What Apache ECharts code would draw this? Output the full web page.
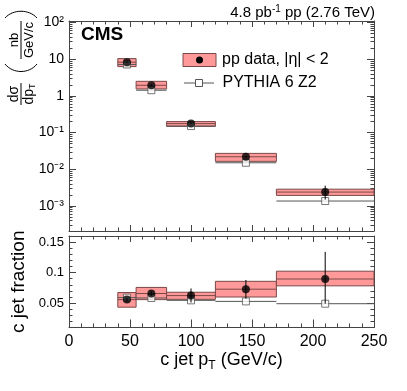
<!DOCTYPE html>
<html>
<head>
<meta charset="utf-8">
<script src="https://cdn.jsdelivr.net/npm/echarts@6/dist/echarts.min.js"></script>
<style>
  html, body { margin: 0; padding: 0; background: #fff; }
  #chart { width: 407px; height: 391px; }
</style>
</head>
<body>
<div id="chart"></div>
<script>
// c jet pT bins (GeV/c)
const binLow = [40, 55, 80, 120, 170];
const binHigh = [55, 80, 120, 170, 250];
const binCenter = [47.5, 67.5, 100, 145, 210];

// top panel: dsigma/dpT (nb/GeV/c)
const xsecData = [8.3, 1.95, 0.176, 0.022, 0.0024];
const xsecStatLow = [7.9, 1.85, 0.170, 0.0205, 0.0015];
const xsecStatHigh = [8.7, 2.05, 0.183, 0.0235, 0.0036];
const xsecSysLow = [6.3, 1.55, 0.148, 0.0165, 0.00195];
const xsecSysHigh = [10.4, 2.5, 0.200, 0.0272, 0.00288];
const xsecPythia = [7.2, 1.43, 0.151, 0.0151, 0.00137];

// bottom panel: c jet fraction
const fracData = [0.0557, 0.0657, 0.0623, 0.0728, 0.0895];
const fracStatLow = [0.053, 0.062, 0.051, 0.0573, 0.049];
const fracStatHigh = [0.058, 0.070, 0.074, 0.0878, 0.134];
const fracSysLow = [0.0433, 0.0557, 0.0562, 0.0600, 0.0783];
const fracSysHigh = [0.0673, 0.0757, 0.0678, 0.0857, 0.1023];
const fracPythia = [0.059, 0.0584, 0.0545, 0.0528, 0.049];

// tick values and labels
const logMajor = [0.001, 0.01, 0.1, 1, 10, 100];
const logLabels = ['10\u207b\u00b3', '10\u207b\u00b2', '10\u207b\u00b9', '1', '10', '10\u00b2'];
const logMinor = [];
logMajor.concat([0.0001]).forEach(function (d) {
  for (let k = 2; k <= 9; k++) logMinor.push(+(d * k).toPrecision(3));
});
const fracMajor = [0.05, 0.1, 0.15];

const frame = '#444';
const boxFill = '#ff9999';
const boxEdge = '#7a4848';
const font = '"Liberation Sans", Arial, sans-serif';
const plotW = 305;

const chart = echarts.init(document.getElementById('chart'));

function xAxis(gi, pos, showLabel, majorLen, minorLen) {
  return {
    type: 'value', gridIndex: gi, position: pos, min: 0, max: 250, interval: 50,
    axisLine: { show: true, onZero: false, lineStyle: { color: frame } },
    axisTick: { show: true, inside: true, length: majorLen, lineStyle: { color: frame } },
    minorTick: { show: true, splitNumber: 5, length: minorLen, lineStyle: { color: frame } },
    axisLabel: { show: showLabel, color: '#000', fontSize: 16, fontFamily: font, margin: 6 },
    splitLine: { show: false }
  };
}

// y ticks: an axis placed on the opposite side and shifted across the plot,
// so its outward ticks point into the frame
function yLogLabels() {
  return {
    type: 'log', logBase: 10, gridIndex: 0, position: 'left', min: 2.09e-4, max: 110,
    axisLine: { show: true, onZero: false, lineStyle: { color: frame } },
    axisTick: { show: false },
    axisLabel: {
      customValues: logMajor, margin: 5, color: '#000', fontSize: 14, fontFamily: font,
      formatter: function (v) {
        const i = logMajor.findIndex(function (m) { return Math.abs(m - v) / m < 1e-6; });
        return i < 0 ? '' : logLabels[i];
      }
    },
    splitLine: { show: false }
  };
}
function yLogTicks(pos, values, len, showLine) {
  return {
    type: 'log', logBase: 10, gridIndex: 0, position: pos, offset: -plotW, min: 2.09e-4, max: 110,
    axisLine: { show: showLine, onZero: false, lineStyle: { color: frame } },
    axisTick: { show: true, inside: false, length: len, customValues: values, lineStyle: { color: frame } },
    axisLabel: { show: false },
    splitLine: { show: false }
  };
}

function yFracLabels() {
  return {
    type: 'value', gridIndex: 1, position: 'left', min: 0.01, max: 0.16, interval: 0.01,
    axisLine: { show: true, onZero: false, lineStyle: { color: frame } },
    axisTick: { show: false },
    axisLabel: {
      customValues: fracMajor, margin: 5, color: '#000', fontSize: 13, fontFamily: font,
      formatter: function (v) { return String(+v.toFixed(2)); }
    },
    splitLine: { show: false },
    name: 'c jet fraction', nameLocation: 'middle', nameGap: 25,
    nameTextStyle: { fontSize: 19, fontFamily: font, color: '#000' }
  };
}
function yFracTicks(pos, major, showLine) {
  const tick = { show: true, inside: false, length: major ? 7 : 3.5, lineStyle: { color: frame } };
  if (major) tick.customValues = fracMajor;
  return {
    type: 'value', gridIndex: 1, position: pos, offset: -plotW, min: 0.01, max: 0.16, interval: 0.01,
    axisLine: { show: showLine, onZero: false, lineStyle: { color: frame } },
    axisTick: tick,
    axisLabel: { show: false },
    splitLine: { show: false }
  };
}

// bins -> rows for custom series
function boxRows(lo, hi, mid) {
  return binLow.map(function (b, i) { return [b, binHigh[i], lo[i], hi[i], mid[i]]; });
}
function hRows(vals) {
  return binLow.map(function (b, i) { return [b, binHigh[i], vals[i]]; });
}
function errRows(lo, hi) {
  return binCenter.map(function (c, i) { return [c, lo[i], hi[i]]; });
}
function pts(vals) {
  return binCenter.map(function (c, i) { return [c, vals[i]]; });
}

function renderBox(params, api) {
  const a = api.coord([api.value(0), api.value(3)]);
  const b = api.coord([api.value(1), api.value(2)]);
  const m = api.coord([api.value(0), api.value(4)]);
  return {
    type: 'group',
    children: [
      { type: 'rect', shape: { x: a[0], y: a[1], width: b[0] - a[0], height: b[1] - a[1] },
        style: { fill: boxFill, stroke: boxEdge, lineWidth: 1 } },
      { type: 'line', shape: { x1: a[0], y1: m[1], x2: b[0], y2: m[1] },
        style: { stroke: boxEdge, lineWidth: 1 } }
    ]
  };
}
function renderH(params, api) {
  const a = api.coord([api.value(0), api.value(2)]);
  const b = api.coord([api.value(1), api.value(2)]);
  return { type: 'line', shape: { x1: a[0], y1: a[1], x2: b[0], y2: b[1] },
    style: { stroke: '#555', lineWidth: 1 } };
}
function renderErr(params, api) {
  const a = api.coord([api.value(0), api.value(1)]);
  const b = api.coord([api.value(0), api.value(2)]);
  return { type: 'line', shape: { x1: a[0], y1: a[1], x2: b[0], y2: b[1] },
    style: { stroke: '#000', lineWidth: 1 } };
}

function panelSeries(xi, yi, lo, hi, mid, sLo, sHi, pyth) {
  return [
    { type: 'custom', xAxisIndex: xi, yAxisIndex: yi, renderItem: renderBox, z: 2,
      encode: { x: [0, 1], y: [2, 3] }, data: boxRows(lo, hi, mid) },
    { type: 'custom', xAxisIndex: xi, yAxisIndex: yi, renderItem: renderH, z: 3,
      encode: { x: [0, 1], y: 2 }, data: hRows(pyth) },
    { type: 'scatter', xAxisIndex: xi, yAxisIndex: yi, symbol: 'rect', symbolSize: 7, z: 4,
      itemStyle: { color: '#fff', borderColor: '#555', borderWidth: 1 }, data: pts(pyth) },
    { type: 'custom', xAxisIndex: xi, yAxisIndex: yi, renderItem: renderErr, z: 5,
      encode: { x: 0, y: [1, 2] }, data: errRows(sLo, sHi) },
    { type: 'scatter', xAxisIndex: xi, yAxisIndex: yi, symbol: 'circle', symbolSize: 8, z: 6,
      itemStyle: { color: '#000' }, data: pts(mid) }
  ];
}

const option = {
  animation: false,
  backgroundColor: '#fff',
  grid: [
    { left: 69, top: 21, width: plotW, height: 210 },
    { left: 69, top: 236, width: plotW, height: 91.5 }
  ],
  xAxis: [
    xAxis(0, 'bottom', false, 6, 3.5),
    xAxis(0, 'top', false, 6, 3.5),
    Object.assign(xAxis(1, 'bottom', true, 8, 4), {
      name: '{a|c jet p}{t|T}{a| (GeV/c)}', nameLocation: 'middle', nameGap: 22,
      nameTextStyle: { rich: {
        a: { fontSize: 18, fontFamily: font, color: '#000' },
        t: { fontSize: 12, fontFamily: font, color: '#000', padding: [10, 0, 0, 0] }
      } }
    }),
    xAxis(1, 'top', false, 6, 3.5)
  ],
  yAxis: [
    yLogLabels(),                              // 0: left frame + labels
    yLogTicks('right', logMajor, 7, false),    // 1: left major ticks
    yLogTicks('right', logMinor, 3.5, false),  // 2: left minor ticks
    yLogTicks('left', logMajor, 7, true),      // 3: right frame + major ticks
    yLogTicks('left', logMinor, 3.5, false),   // 4: right minor ticks
    yFracLabels(),                             // 5: left frame + labels
    yFracTicks('right', true, false),          // 6
    yFracTicks('right', false, false),         // 7
    yFracTicks('left', true, true),            // 8: right frame
    yFracTicks('left', false, false)           // 9
  ],
  series: panelSeries(0, 0, xsecSysLow, xsecSysHigh, xsecData, xsecStatLow, xsecStatHigh, xsecPythia)
    .concat(panelSeries(2, 5, fracSysLow, fracSysHigh, fracData, fracStatLow, fracStatHigh, fracPythia)),
  graphic: [
    { type: 'text', right: 32, top: 4, style: {
      text: '{a|4.8 pb}{s|-1}{a| pp (2.76 TeV)}',
      rich: {
        a: { fontSize: 15, fontFamily: font, fill: '#000' },
        s: { fontSize: 10, fontFamily: font, fill: '#000', padding: [0, 0, 8, 0] }
      } } },
    { type: 'text', left: 81, top: 25, style: {
      text: 'CMS', fontSize: 19, fontWeight: 'bold', fontFamily: font, fill: '#000' } },
    // legend
    { type: 'rect', shape: { x: 183, y: 53.5, width: 33, height: 13 },
      style: { fill: boxFill, stroke: boxEdge, lineWidth: 1 } },
    { type: 'circle', shape: { cx: 199.5, cy: 60, r: 3.5 }, style: { fill: '#000' } },
    { type: 'text', x: 222, y: 60, style: {
      text: 'pp data, |\u03b7| < 2', fontSize: 16, fontFamily: font, fill: '#000', verticalAlign: 'middle' } },
    { type: 'line', shape: { x1: 184, y1: 83, x2: 214, y2: 83 }, style: { stroke: '#555', lineWidth: 1 } },
    { type: 'rect', shape: { x: 195.5, y: 79.5, width: 7, height: 7 },
      style: { fill: '#fff', stroke: '#555', lineWidth: 1 } },
    { type: 'text', x: 222.5, y: 83, style: {
      text: 'PYTHIA 6 Z2', fontSize: 16, fontFamily: font, fill: '#000', verticalAlign: 'middle' } },
    // top y-axis title, rotated
    { type: 'group', x: 21, y: 106, rotation: Math.PI / 2, children: [
      { type: 'text', x: 12, y: -7, style: { text: 'd\u03c3', fontSize: 14, fontFamily: font, fill: '#000',
        align: 'center', verticalAlign: 'middle' } },
      { type: 'line', shape: { x1: 1, y1: 0, x2: 23, y2: 0 }, style: { stroke: '#000', lineWidth: 1 } },
      { type: 'text', x: 12, y: 8, style: { text: '{a|dp}{t|T}', fontFamily: font,
        align: 'center', verticalAlign: 'middle',
        rich: { a: { fontSize: 14, fontFamily: font, fill: '#000' },
                t: { fontSize: 9, fontFamily: font, fill: '#000', padding: [8, 0, 0, 0] } } } },
      { type: 'bezierCurve', shape: { x1: 42, y1: -16, cpx1: 32, cpy1: -8, cpx2: 32, cpy2: 8, x2: 42, y2: 16 },
        style: { stroke: '#000', lineWidth: 1, fill: null } },
      { type: 'text', x: 66, y: -7, style: { text: 'nb', fontSize: 13, fontFamily: font, fill: '#000',
        align: 'center', verticalAlign: 'middle' } },
      { type: 'line', shape: { x1: 47, y1: 0, x2: 85, y2: 0 }, style: { stroke: '#000', lineWidth: 1 } },
      { type: 'text', x: 66, y: 8, style: { text: 'GeV/c', fontSize: 13, fontFamily: font, fill: '#000',
        align: 'center', verticalAlign: 'middle' } },
      { type: 'bezierCurve', shape: { x1: 88, y1: -16, cpx1: 97, cpy1: -8, cpx2: 97, cpy2: 8, x2: 88, y2: 16 },
        style: { stroke: '#000', lineWidth: 1, fill: null } }
    ] }
  ]
};

chart.setOption(option);
</script>
</body>
</html>
